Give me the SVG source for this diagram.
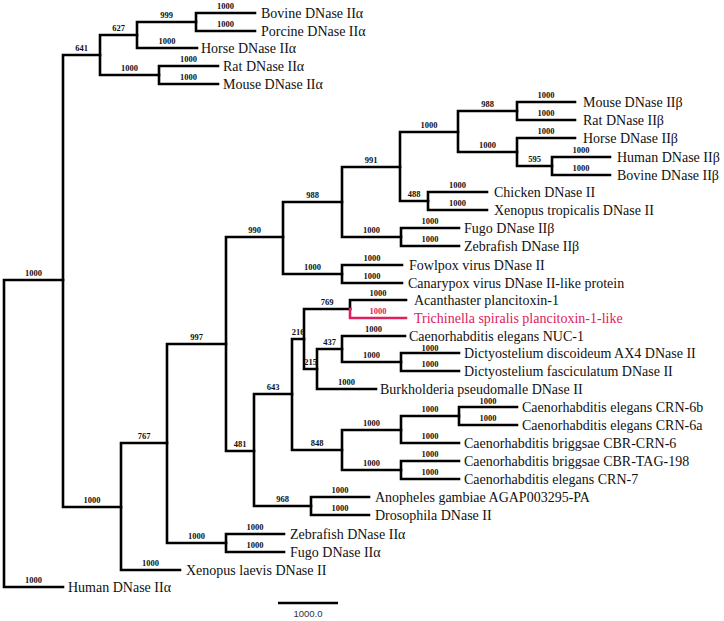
<svg xmlns="http://www.w3.org/2000/svg" width="724" height="621" viewBox="0 0 724 621">
<style>
.br{fill:none;stroke:#000;stroke-width:2.6;stroke-linejoin:miter;stroke-linecap:square}
.red{stroke:#e0205c}
.lf{font-family:"Liberation Serif","Times New Roman",serif;font-size:14px;fill:#111}
.bs{font-family:"Liberation Serif","Times New Roman",serif;font-size:8.5px;font-weight:bold;fill:#111;text-anchor:middle}
.rt{fill:#e0205c}
.sc{font-family:"Liberation Sans",Arial,sans-serif;font-size:9.5px;fill:#333;text-anchor:middle}
</style>
<rect width="724" height="621" fill="#fff"/>
<g id="connectors">
<path class="br" d="M63,280 H4 V587 H63"/>
<path class="br" d="M100,55 H63 V507 H121"/>
<path class="br" d="M137,35 H100 V75 H159"/>
<path class="br" d="M196,22 H137 V48 H197"/>
<path class="br" d="M255,13 H196 V31 H255"/>
<path class="br" d="M218,66 H159 V84 H218"/>
<path class="br" d="M167,443 H121 V570 H180"/>
<path class="br" d="M226,344 H167 V543 H226"/>
<path class="br" d="M284,534 H226 V552 H284"/>
<path class="br" d="M283,237 H226 V451 H254"/>
<path class="br" d="M342,202 H283 V274 H342"/>
<path class="br" d="M402,265 H342 V283 H402"/>
<path class="br" d="M400,167 H342 V237 H401"/>
<path class="br" d="M459,228 H401 V246 H459"/>
<path class="br" d="M458,132 H400 V201 H428"/>
<path class="br" d="M487,192 H428 V210 H487"/>
<path class="br" d="M517,111 H458 V152 H517"/>
<path class="br" d="M575,102 H517 V120 H575"/>
<path class="br" d="M575,138 H517 V166 H552"/>
<path class="br" d="M610,157 H552 V175 H610"/>
<path class="br" d="M292,394 H254 V506 H311"/>
<path class="br" d="M369,497 H311 V515 H369"/>
<path class="br" d="M304,339 H292 V450 H342"/>
<path class="br" d="M401,430 H342 V470 H401"/>
<path class="br" d="M459,416 H401 V443 H459"/>
<path class="br" d="M517,407 H459 V425 H517"/>
<path class="br" d="M459,461 H401 V479 H459"/>
<path class="br" d="M350,309 H304 V369 H317"/>
<path class="br" d="M406,300 H350 V309"/>
<path class="br red" d="M350,309 V318 H406"/>
<path class="br" d="M342,349 H317 V389 H376"/>
<path class="br" d="M405,336 H342 V362 H401"/>
<path class="br" d="M459,353 H401 V371 H459"/>
</g>
<g id="n-root"></g>
<g id="n-a"><text class="bs" x="33.5" y="276">1000</text></g>
<g id="n-b"><text class="bs" x="81.5" y="51">641</text></g>
<g id="n-c"><text class="bs" x="92" y="503">1000</text></g>
<g id="n-d"><text class="bs" x="118.5" y="31">627</text></g>
<g id="n-e"><text class="bs" x="129.5" y="71">1000</text></g>
<g id="n-f"><text class="bs" x="166.5" y="18">999</text></g>
<g id="n-g"><text class="bs" x="144" y="439">767</text></g>
<g id="n-h"><text class="bs" x="196.5" y="340">997</text></g>
<g id="n-i"><text class="bs" x="196.5" y="539">1000</text></g>
<g id="n-j"><text class="bs" x="254.5" y="233">990</text></g>
<g id="n-k"><text class="bs" x="240" y="447">481</text></g>
<g id="n-l"><text class="bs" x="312.5" y="198">988</text></g>
<g id="n-m"><text class="bs" x="312.5" y="270">1000</text></g>
<g id="n-n"><text class="bs" x="371" y="163">991</text></g>
<g id="n-o"><text class="bs" x="371.5" y="233">1000</text></g>
<g id="n-p"><text class="bs" x="429" y="128">1000</text></g>
<g id="n-q"><text class="bs" x="414" y="197">488</text></g>
<g id="n-r"><text class="bs" x="487.5" y="107">988</text></g>
<g id="n-s"><text class="bs" x="487.5" y="148">1000</text></g>
<g id="n-t"><text class="bs" x="534.5" y="162">595</text></g>
<g id="n-u"><text class="bs" x="273" y="390">643</text></g>
<g id="n-v"><text class="bs" x="282.5" y="502">968</text></g>
<g id="n-w"><text class="bs" x="298" y="335">216</text></g>
<g id="n-x"><text class="bs" x="317" y="446">848</text></g>
<g id="n-y"><text class="bs" x="371.5" y="426">1000</text></g>
<g id="n-y1"><text class="bs" x="430" y="412">1000</text></g>
<g id="n-z"><text class="bs" x="371.5" y="466">1000</text></g>
<g id="n-aa"><text class="bs" x="327" y="305">769</text></g>
<g id="n-bb"><text class="bs" x="310.5" y="365">215</text></g>
<g id="n-cc"><text class="bs" x="329.5" y="345">437</text></g>
<g id="n-dd"><text class="bs" x="371.5" y="358">1000</text></g>

<g id="leaf-bovine-a"><text class="bs" x="225.5" y="9">1000</text><text class="lf" x="261" y="18">Bovine DNase IIα</text></g>
<g id="leaf-porcine-a"><text class="bs" x="225.5" y="27">1000</text><text class="lf" x="261" y="36">Porcine DNase IIα</text></g>
<g id="leaf-horse-a"><text class="bs" x="167" y="44">1000</text><text class="lf" x="201" y="53">Horse DNase IIα</text></g>
<g id="leaf-rat-a"><text class="bs" x="188.5" y="62">1000</text><text class="lf" x="223" y="71">Rat DNase IIα</text></g>
<g id="leaf-mouse-a"><text class="bs" x="188.5" y="80">1000</text><text class="lf" x="223" y="89">Mouse DNase IIα</text></g>
<g id="leaf-mouse-b"><text class="bs" x="546" y="98">1000</text><text class="lf" x="583" y="107">Mouse DNase IIβ</text></g>
<g id="leaf-rat-b"><text class="bs" x="546" y="116">1000</text><text class="lf" x="583" y="125">Rat DNase IIβ</text></g>
<g id="leaf-horse-b"><text class="bs" x="546" y="134">1000</text><text class="lf" x="583" y="143">Horse DNase IIβ</text></g>
<g id="leaf-human-b"><text class="bs" x="581" y="153">1000</text><text class="lf" x="617" y="162">Human DNase IIβ</text></g>
<g id="leaf-bovine-b"><text class="bs" x="581" y="171">1000</text><text class="lf" x="617" y="180">Bovine DNase IIβ</text></g>
<g id="leaf-chicken"><text class="bs" x="457.5" y="188">1000</text><text class="lf" x="494" y="197">Chicken DNase II</text></g>
<g id="leaf-xenopus-trop"><text class="bs" x="457.5" y="206">1000</text><text class="lf" x="494" y="215">Xenopus tropicalis DNase II</text></g>
<g id="leaf-fugo-b"><text class="bs" x="430" y="224">1000</text><text class="lf" x="464" y="233">Fugo DNase IIβ</text></g>
<g id="leaf-zebrafish-b"><text class="bs" x="430" y="242">1000</text><text class="lf" x="464" y="251">Zebrafish DNase IIβ</text></g>
<g id="leaf-fowlpox"><text class="bs" x="372" y="261">1000</text><text class="lf" x="409" y="270">Fowlpox virus DNase II</text></g>
<g id="leaf-canarypox"><text class="bs" x="372" y="279">1000</text><text class="lf" x="408" y="288">Canarypox virus DNase II-like protein</text></g>
<g id="leaf-acanthaster"><text class="bs" x="378" y="296">1000</text><text class="lf" x="414" y="305">Acanthaster plancitoxin-1</text></g>
<g id="leaf-trichinella"><text class="bs rt" x="378" y="314">1000</text><text class="lf rt" x="414" y="323">Trichinella spiralis plancitoxin-1-like</text></g>
<g id="leaf-nuc1"><text class="bs" x="373.5" y="332">1000</text><text class="lf" x="409" y="340.5">Caenorhabditis elegans NUC-1</text></g>
<g id="leaf-dicty-d"><text class="bs" x="430" y="350.5">1000</text><text class="lf" x="464" y="358">Dictyostelium discoideum AX4 DNase II</text></g>
<g id="leaf-dicty-f"><text class="bs" x="430" y="367">1000</text><text class="lf" x="464" y="376">Dictyostelium fasciculatum DNase II</text></g>
<g id="leaf-burkholderia"><text class="bs" x="346.5" y="385">1000</text><text class="lf" x="380" y="394">Burkholderia pseudomalle DNase II</text></g>
<g id="leaf-crn6b"><text class="bs" x="488" y="403.5">1000</text><text class="lf" x="522" y="412">Caenorhabditis elegans CRN-6b</text></g>
<g id="leaf-crn6a"><text class="bs" x="488" y="421">1000</text><text class="lf" x="522" y="430">Caenorhabditis elegans CRN-6a</text></g>
<g id="leaf-cbr-crn6"><text class="bs" x="430" y="439">1000</text><text class="lf" x="464" y="448">Caenorhabditis briggsae CBR-CRN-6</text></g>
<g id="leaf-tag198"><text class="bs" x="430" y="457">1000</text><text class="lf" x="464" y="466">Caenorhabditis briggsae CBR-TAG-198</text></g>
<g id="leaf-crn7"><text class="bs" x="430" y="475">1000</text><text class="lf" x="464" y="484">Caenorhabditis elegans CRN-7</text></g>
<g id="leaf-anopheles"><text class="bs" x="340" y="493">1000</text><text class="lf" x="375" y="502">Anopheles gambiae AGAP003295-PA</text></g>
<g id="leaf-drosophila"><text class="bs" x="340" y="511">1000</text><text class="lf" x="375" y="520">Drosophila DNase II</text></g>
<g id="leaf-zebrafish-a"><text class="bs" x="255" y="530">1000</text><text class="lf" x="290" y="539">Zebrafish DNase IIα</text></g>
<g id="leaf-fugo-a"><text class="bs" x="255" y="548">1000</text><text class="lf" x="290" y="557">Fugo DNase IIα</text></g>
<g id="leaf-xenopus-laevis"><text class="bs" x="150.5" y="566">1000</text><text class="lf" x="186" y="575">Xenopus laevis DNase II</text></g>
<g id="leaf-human-a"><text class="bs" x="33.5" y="583">1000</text><text class="lf" x="68" y="592">Human DNase IIα</text></g>

<g id="scale-bar">
<path d="M278,603 H338" stroke="#000" stroke-width="2.5" fill="none"/>
<text class="sc" x="308" y="617">1000.0</text>
</g>
</svg>
